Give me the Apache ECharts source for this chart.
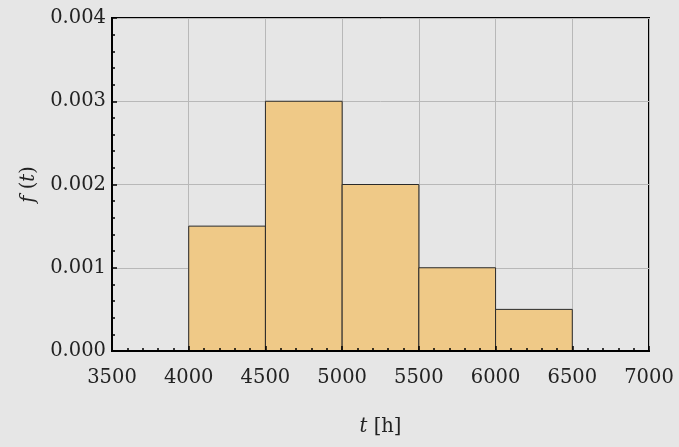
<!DOCTYPE html>
<html><head><meta charset="utf-8">
<script src="https://cdn.jsdelivr.net/npm/echarts@6/dist/echarts.min.js"></script>
<style>html,body{margin:0;padding:0;background:#e6e6e6}#c{width:679px;height:447px}</style>
</head><body><div id="c"></div>
<script>
const binStarts = [4000, 4500, 5000, 5500, 6000];
const binEnds = [4500, 5000, 5500, 6000, 6500];
const density = [0.0015, 0.003, 0.002, 0.001, 0.0005];
const xTicks = [3500, 4000, 4500, 5000, 5500, 6000, 6500, 7000];
const yTicks = ['0.000', '0.001', '0.002', '0.003', '0.004'];

const data = binStarts.map((s, i) => [s, binEnds[i], density[i]]);
const FONT = 'DejaVu Serif';
const FS = 19.5;
const chart = echarts.init(document.getElementById('c'));
const tickStyle = { color: '#000', width: 1.5 };
chart.setOption({
  backgroundColor: '#e6e6e6',
  animation: false,
  textStyle: { fontFamily: FONT, color: '#222' },
  grid: { left: 112, right: 30, top: 18, bottom: 96, show: true, backgroundColor: '#e6e6e6', borderColor: '#000', borderWidth: 2 },
  xAxis: [{
    type: 'value', min: xTicks[0], max: xTicks[xTicks.length - 1], interval: 500,
    axisLine: { show: true, lineStyle: { color: '#000', width: 2 } },
    axisTick: { show: false },
    splitLine: { show: true, lineStyle: { color: '#b8b8b8', width: 1 } },
    axisLabel: { fontFamily: FONT, fontSize: FS, color: '#222', margin: 17, formatter: (v) => String(v) },
    name: '{i|t} [h]', nameLocation: 'middle', nameGap: 66,
    nameTextStyle: { fontFamily: FONT, fontSize: FS, color: '#222', rich: { i: { fontFamily: FONT, fontStyle: 'italic', fontSize: FS, color: '#222' } } }
  }, {
    type: 'value', position: 'bottom', min: xTicks[0], max: xTicks[xTicks.length - 1], interval: 500, z: 10,
    axisLine: { show: true, lineStyle: { color: '#000', width: 2 } },
    axisTick: { show: true, inside: true, length: 5, lineStyle: tickStyle },
    minorTick: { show: true, splitNumber: 5, length: 3, lineStyle: tickStyle },
    splitLine: { show: false },
    axisLabel: { show: false }
  }],
  yAxis: {
    type: 'value', min: 0, max: 0.004, interval: 0.001,
    axisLine: { show: true, lineStyle: { color: '#000', width: 2 } },
    axisTick: { show: true, inside: true, length: 5, lineStyle: tickStyle },
    minorTick: { show: true, splitNumber: 5, length: 3, lineStyle: tickStyle },
    splitLine: { show: true, lineStyle: { color: '#b8b8b8', width: 1 } },
    axisLabel: { fontFamily: FONT, fontSize: FS, color: '#222', margin: 6, formatter: (v) => yTicks[Math.round(v * 1000)] },
    name: '{i|f} ({i|t})', nameLocation: 'middle', nameGap: 71, nameRotate: 90,
    nameTextStyle: { fontFamily: FONT, fontSize: FS, color: '#222', rich: { i: { fontFamily: FONT, fontStyle: 'italic', fontSize: FS, color: '#222' } } }
  },
  series: [{
    type: 'custom',
    xAxisIndex: 0,
    data: data,
    encode: { x: [0, 1], y: 2 },
    renderItem: function (params, api) {
      const p0 = api.coord([api.value(0), api.value(2)]);
      const p1 = api.coord([api.value(1), 0]);
      return {
        type: 'rect',
        shape: { x: p0[0], y: p0[1], width: p1[0] - p0[0], height: p1[1] - p0[1] },
        style: { fill: '#efc987', stroke: '#2a2a2a', lineWidth: 1 }
      };
    }
  }]
});
</script></body></html>
